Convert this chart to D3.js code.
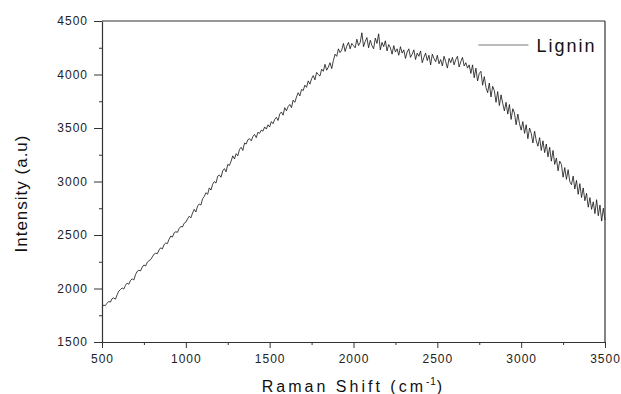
<!DOCTYPE html>
<html>
<head>
<meta charset="utf-8">
<script src="https://cdn.jsdelivr.net/npm/d3@7"></script>
<style>
  body { margin: 0; background: #fff; }
  svg { display: block; font-family: "Liberation Sans", Arial, sans-serif; }
</style>
</head>
<body>
<div id="chart"></div>
<script>
// Raman spectrum of lignin (one value every 10 cm-1)
const shiftStart = 500;
const shiftStep = 10;
const intensity = [
    1825, 1845, 1840, 1862, 1880, 1872, 1905, 1912, 1900, 1940,
    1975, 1990, 2005, 1995, 2030, 2050, 2040, 2075, 2090, 2080,
    2130, 2160, 2170, 2165, 2200, 2220, 2210, 2245, 2260, 2270,
    2295, 2320, 2330, 2325, 2360, 2380, 2370, 2410, 2425, 2420,
    2460, 2490, 2480, 2520, 2530, 2525, 2560, 2580, 2575, 2610,
    2620, 2650, 2675, 2660, 2705, 2740, 2715, 2770, 2790, 2780,
    2840, 2860, 2895, 2880, 2940, 2920, 2975, 3000, 2985, 3050,
    3060, 3040, 3100, 3120, 3090, 3160, 3150, 3190, 3240, 3210,
    3260, 3240, 3300, 3320, 3290, 3360, 3350, 3390, 3400, 3380,
    3420, 3440, 3410, 3460, 3450, 3480, 3470, 3510, 3490, 3530,
    3510, 3560, 3540, 3580, 3600, 3570, 3630, 3650, 3620, 3690,
    3660, 3700, 3720, 3690, 3760, 3740, 3790, 3830, 3800, 3860,
    3850, 3900, 3880, 3940, 3910, 3960, 3990, 3950, 4020, 4000,
    3985, 4050, 4030, 4095, 4040, 4070, 4110, 4055, 4130, 4190,
    4170, 4240, 4205, 4230, 4290, 4215, 4265, 4300, 4240, 4290,
    4270, 4250, 4330, 4270, 4300, 4390, 4260, 4310, 4345, 4250,
    4320, 4270, 4240, 4340, 4290, 4380, 4230, 4300, 4260, 4315,
    4220, 4280, 4250, 4190, 4270, 4210, 4240, 4180, 4260, 4200,
    4230, 4150, 4210, 4240, 4160, 4190, 4230, 4140, 4200, 4170,
    4220, 4110, 4160, 4200, 4130, 4180, 4090, 4190, 4150, 4120,
    4180, 4100, 4140, 4080, 4170, 4120, 4060, 4150, 4110, 4160,
    4090, 4140, 4170, 4070, 4120, 4160, 4080, 4110, 4060, 4090,
    4010, 4090, 3970, 4060, 3940, 4010, 4030, 3900, 3980, 3880,
    3830, 3920, 3790, 3890, 3850, 3740, 3840, 3710, 3810, 3730,
    3660, 3740, 3630, 3720, 3580, 3680, 3640, 3530, 3630, 3540,
    3480, 3560, 3450, 3530, 3400, 3500, 3450, 3360, 3470, 3380,
    3330, 3410, 3290, 3380, 3270, 3350, 3230, 3320, 3190, 3290,
    3160, 3220, 3100, 3190, 3160, 3040, 3130, 3020, 3110, 3000,
    2970, 3050, 2930, 3010, 2880, 2980, 2850, 2940, 2820, 2890,
    2760, 2850, 2740, 2810, 2700, 2830, 2680, 2780, 2630, 2750,
    2640
];
const xTicks = [500, 1000, 1500, 2000, 2500, 3000, 3500];
const xMinor = [750, 1250, 1750, 2250, 2750, 3250];
const yTicks = [1500, 2000, 2500, 3000, 3500, 4000, 4500];
const yMinor = [1750, 2250, 2750, 3250, 3750, 4250];
const seriesName = 'Lignin';

const W = 621, H = 394;
const margin = { top: 21, right: 16, bottom: 52, left: 102 };
const width = W - margin.left - margin.right;
const height = H - margin.top - margin.bottom;
const axisColor = '#333';

const spectrum = intensity.map((v, i) => ({ x: shiftStart + i * shiftStep, y: v }));

const svg = d3.select('#chart').append('svg')
    .attr('width', W)
    .attr('height', H);

const g = svg.append('g')
    .attr('transform', `translate(${margin.left},${margin.top})`);

const x = d3.scaleLinear().domain([500, 3500]).range([0, width]);
const y = d3.scaleLinear().domain([1500, 4500]).range([height, 0]);

// spectrum line
g.append('path')
    .datum(spectrum)
    .attr('fill', 'none')
    .attr('stroke', '#111')
    .attr('stroke-width', 0.8)
    .attr('d', d3.line().x(d => x(d.x)).y(d => y(d.y)));

// frame (top + right)
g.append('line').attr('x1', 0).attr('x2', width).attr('y1', 0).attr('y2', 0)
    .attr('stroke', axisColor).attr('stroke-width', 1.2);
g.append('line').attr('x1', width).attr('x2', width).attr('y1', 0).attr('y2', height)
    .attr('stroke', axisColor).attr('stroke-width', 1.2);

function styleAxis(sel, fontSize) {
    sel.select('.domain').attr('stroke', axisColor).attr('stroke-width', 1.2);
    sel.selectAll('.tick line').attr('stroke', axisColor).attr('stroke-width', 1);
    sel.selectAll('.tick text')
        .attr('fill', '#222')
        .style('font-size', fontSize + 'px')
        .style('letter-spacing', '1px')
        .style('font-family', '"Liberation Sans", Arial, sans-serif');
}

// x axis
const xAxis = g.append('g')
    .attr('transform', `translate(0,${height})`)
    .call(d3.axisBottom(x).tickValues(xTicks).tickSize(6).tickSizeOuter(0).tickPadding(6).tickFormat(d3.format('d')));
styleAxis(xAxis, 12);
xAxis.append('g').call(d3.axisBottom(x).tickValues(xMinor).tickSize(3).tickFormat(''))
    .call(s => { s.select('.domain').remove(); s.selectAll('line').attr('stroke', axisColor); });

// y axis
const yAxis = g.append('g')
    .call(d3.axisLeft(y).tickValues(yTicks).tickSize(8).tickSizeOuter(0).tickPadding(6).tickFormat(d3.format('d')));
styleAxis(yAxis, 12);
yAxis.append('g').call(d3.axisLeft(y).tickValues(yMinor).tickSize(3).tickFormat(''))
    .call(s => { s.select('.domain').remove(); s.selectAll('line').attr('stroke', axisColor); });

// axis titles
const xTitle = svg.append('text')
    .attr('x', margin.left + width / 2)
    .attr('y', 392)
    .attr('text-anchor', 'middle')
    .attr('fill', '#111')
    .style('font-size', '16px')
    .style('letter-spacing', '3px');
xTitle.append('tspan').text('Raman Shift (cm');
xTitle.append('tspan').attr('dy', -7).style('font-size', '10px').style('letter-spacing', '1px').text('-1');
xTitle.append('tspan').attr('dy', 7).text(')');

svg.append('text')
    .attr('transform', `translate(27,${margin.top + height / 2 + 12}) rotate(-90)`)
    .attr('text-anchor', 'middle')
    .attr('fill', '#111')
    .style('font-size', '17px')
    .style('letter-spacing', '1px')
    .text('Intensity (a.u)');

// legend
const legend = g.append('g').attr('transform', `translate(${x(2745)},24)`);
legend.append('line')
    .attr('x1', 0).attr('x2', 50)
    .attr('stroke', '#555').attr('stroke-width', 0.8);
legend.append('text')
    .attr('x', 58).attr('y', 7)
    .attr('fill', '#111')
    .style('font-size', '18px')
    .style('letter-spacing', '2px')
    .text(seriesName);
</script>
</body>
</html>
